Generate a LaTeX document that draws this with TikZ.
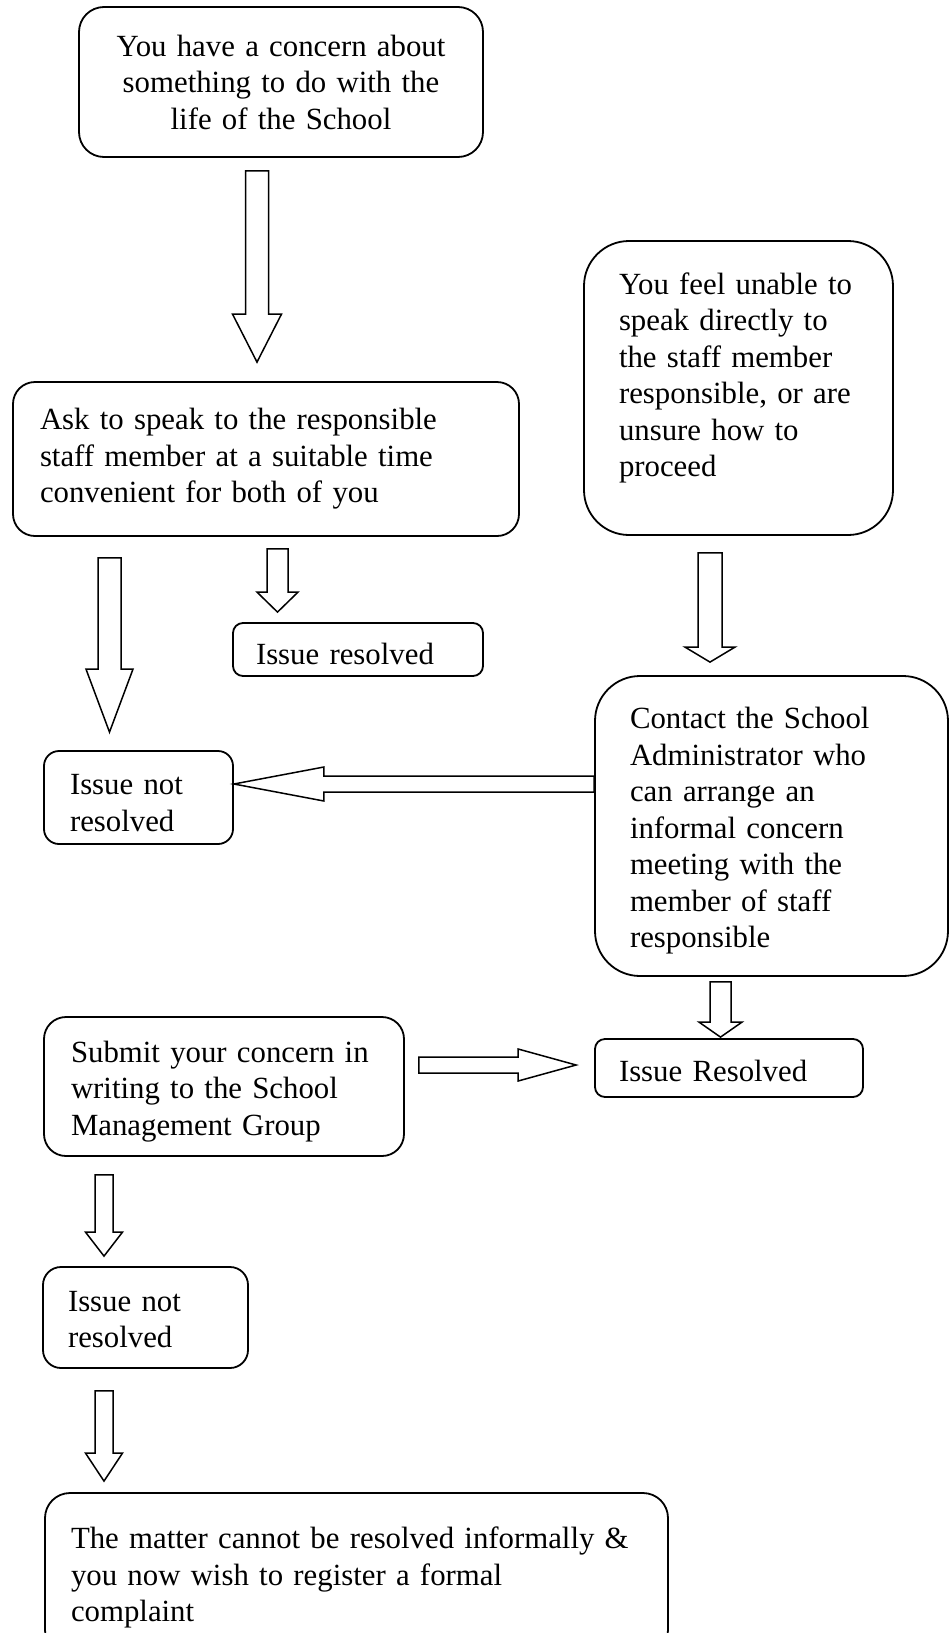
\documentclass[tikz,border=0pt]{standalone}
\usepackage{fontspec}
\setmainfont{Liberation Serif}
\usetikzlibrary{calc}

% hollow block arrow: start, tip, half shaft, half head, head length
\newcommand{\flowarrow}[5]{%
  \coordinate (hb) at ($(#2)!#5!(#1)$);
  \draw[blockarr] ($(#1)!#3!90:(#2)$) -- ($(hb)!#3!90:(#2)$) -- ($(hb)!#4!90:(#2)$)
    -- (#2) -- ($(hb)!#4!-90:(#2)$) -- ($(hb)!#3!-90:(#2)$) -- ($(#1)!#3!-90:(#2)$) -- cycle;}

\begin{document}
\begin{tikzpicture}[x=1pt,y=-1pt,
  box/.style={draw,line width=1.8pt,rounded corners=20pt,align=left,inner ysep=2pt,
    font=\fontsize{30.8}{36.5}\selectfont},
  blockarr/.style={line width=1.5pt,line join=miter}]
  \useasboundingbox (0,0) rectangle (950,1633);

  \node[box,align=center,text width=364pt,inner xsep=20pt,minimum height=150pt,rounded corners=25pt] (top) at (281,82)
    {You have a concern about\\ something to do with the\\ life of the School};
  \node[box,text width=452pt,inner xsep=27pt,minimum height=154pt,rounded corners=22pt] (ask) at (266,459)
    {Ask to speak to the responsible\\ staff member at a suitable time\\ convenient for both of you};
  \node[box,text width=239pt,inner xsep=35pt,minimum height=294pt,rounded corners=45pt] (feel) at (738.5,388)
    {You feel unable to\\ speak directly to\\ the staff member\\ responsible, or are\\ unsure how to\\ proceed\rule[-27pt]{0pt}{27pt}};
  \node[box,text width=204pt,inner xsep=23pt,minimum height=53pt,rounded corners=10pt] (resolvedA) at (358,649.5)
    {\rule{0pt}{31pt}Issue resolved};
  \node[box,text width=283pt,inner xsep=35pt,minimum height=300pt,rounded corners=45pt] (contact) at (771.5,826)
    {\rule{0pt}{31pt}Contact the School\\ Administrator who\\ can arrange an\\ informal concern\\ meeting with the\\ member of staff\\ responsible};
  \node[box,text width=137pt,inner xsep=26pt,minimum height=93pt,rounded corners=15pt] (notresA) at (138.5,797.5)
    {\rule{0pt}{31.5pt}Issue not\\ resolved};
  \node[box,text width=220pt,inner xsep=24pt,minimum height=58pt,rounded corners=10pt] (resolvedB) at (729,1068)
    {\rule{0pt}{27pt}Issue Resolved};
  \node[box,text width=306pt,inner xsep=27pt,minimum height=139pt,rounded corners=22pt] (submit) at (224,1086.5)
    {\rule{0pt}{31pt}Submit your concern in\\ writing to the School\\ Management Group};
  \node[box,text width=155pt,inner xsep=25pt,minimum height=101pt,rounded corners=18pt] (notresB) at (145.5,1317.5)
    {\rule{0pt}{24.5pt}Issue not\\ resolved};
  \node[box,text width=571pt,inner xsep=26pt,minimum height=162pt,rounded corners=25pt] (final) at (356.5,1574)
    {\rule{0pt}{29pt}The matter cannot be resolved informally \&\\ you now wish to register a formal\\ complaint};

  \coordinate (a1s) at ($(top.south)+(-24,13)$);
  \coordinate (a1t) at ($(ask.north)+(-9,-19)$);
  \flowarrow{a1s}{a1t}{11.5pt}{24.5pt}{48pt}
  \coordinate (a2s) at ($(ask.south)+(-156.5,21)$);
  \coordinate (a2t) at ($(notresA.north)+(-29,-18)$);
  \flowarrow{a2s}{a2t}{11.5pt}{23.5pt}{63pt}
  \coordinate (a3s) at ($(ask.south)+(11.5,12)$);
  \coordinate (a3t) at ($(resolvedA.north)+(-80.5,-10)$);
  \flowarrow{a3s}{a3t}{10.5pt}{20.5pt}{20pt}
  \coordinate (a4s) at ($(feel.south)+(-28.5,17)$);
  \coordinate (a4t) at ($(contact.north)+(-61.5,-13)$);
  \flowarrow{a4s}{a4t}{12pt}{25pt}{15pt}
  \coordinate (a5s) at ($(contact.west)+(0,-42)$);
  \coordinate (a5t) at ($(notresA.east)+(0,-13.5)$);
  \flowarrow{a5s}{a5t}{8pt}{17pt}{90pt}
  \coordinate (a6s) at ($(contact.south)+(-51,5)$);
  \coordinate (a6t) at ($(resolvedB.north)+(-8.5,-1)$);
  \flowarrow{a6s}{a6t}{10.5pt}{21.5pt}{15pt}
  \coordinate (a7s) at ($(submit.east)+(14,-21.5)$);
  \coordinate (a7t) at ($(resolvedB.west)+(-18,-3)$);
  \flowarrow{a7s}{a7t}{8pt}{16pt}{58pt}
  \coordinate (a8s) at ($(submit.south)+(-120,18)$);
  \coordinate (a8t) at ($(notresB.north)+(-41.5,-10)$);
  \flowarrow{a8s}{a8t}{9pt}{18.5pt}{24pt}
  \coordinate (a9s) at ($(notresB.south)+(-41.5,22)$);
  \coordinate (a9t) at ($(final.north)+(-252.5,-11)$);
  \flowarrow{a9s}{a9t}{9pt}{18.5pt}{28pt}
\end{tikzpicture}
\end{document}
